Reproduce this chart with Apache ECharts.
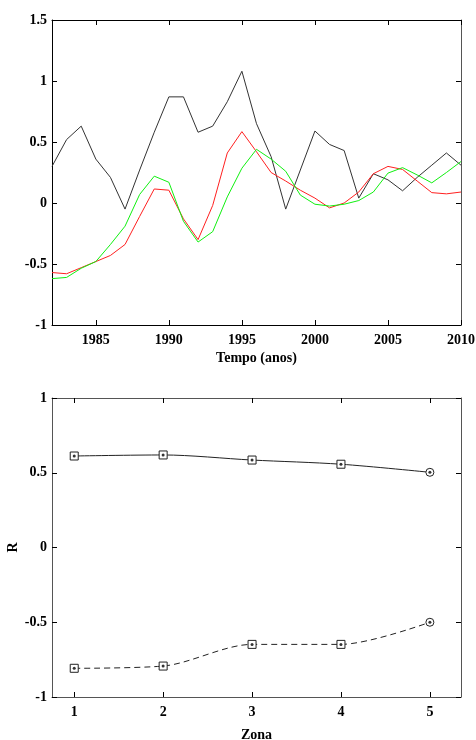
<!DOCTYPE html>
<html>
<head>
<meta charset="utf-8">
<script src="https://cdn.jsdelivr.net/npm/echarts@6/dist/echarts.min.js"></script>
<style>
  html, body { margin: 0; padding: 0; background: #fff; }
  #chart { width: 476px; height: 740px; }
</style>
</head>
<body>
<div id="chart"></div>
<script>
// anos do painel superior
var years = [1982, 1983, 1984, 1985, 1986, 1987, 1988, 1989, 1990, 1991,
  1992, 1993, 1994, 1995, 1996, 1997, 1998, 1999, 2000, 2001,
  2002, 2003, 2004, 2005, 2006, 2007, 2008, 2009, 2010];
var serieNegra = [0.30, 0.52, 0.63, 0.36, 0.21, -0.05, 0.27, 0.58, 0.87, 0.87,
  0.58, 0.63, 0.83, 1.08, 0.65, 0.38, -0.05, 0.27, 0.59, 0.48,
  0.43, 0.04, 0.24, 0.19, 0.10, 0.21, 0.31, 0.41, 0.31];
var serieVermelha = [-0.57, -0.58, -0.53, -0.48, -0.43, -0.34, -0.11, 0.115, 0.105, -0.13,
  -0.30, -0.02, 0.41, 0.585, 0.42, 0.25, 0.18, 0.105, 0.04, -0.04,
  0.0, 0.09, 0.24, 0.30, 0.275, 0.18, 0.085, 0.075, 0.09];
var serieVerde = [-0.62, -0.61, -0.535, -0.48, -0.34, -0.19, 0.07, 0.22, 0.17, -0.15,
  -0.32, -0.235, 0.05, 0.285, 0.44, 0.36, 0.26, 0.065, -0.01, -0.025,
  -0.01, 0.02, 0.09, 0.245, 0.29, 0.23, 0.165, 0.25, 0.34];
var yearTicks = [1985, 1990, 1995, 2000, 2005, 2010];

// painel inferior: correlacao R por zona
var zonas = [1, 2, 3, 4, 5];
var rPositivo = [0.612, 0.619, 0.585, 0.557, 0.503];
var rNegativo = [-0.808, -0.793, -0.648, -0.648, -0.50];

var FONT = 'Liberation Serif';

function pares(xs, ys) {
  return xs.map(function (x, i) { return [x, ys[i]]; });
}

// marcadores: quadrado nas zonas 1-4, circulo na zona 5
function marcadores(xs, ys) {
  return xs.map(function (x, i) {
    return {
      value: [x, ys[i]],
      symbol: i === xs.length - 1 ? 'circle' : 'rect'
    };
  });
}

function eixoX(grid, pos, min, max, ticks, showLabel, lineColor, name, nameGap) {
  return {
    type: 'value', gridIndex: grid, position: pos, min: min, max: max,
    name: name || '', nameLocation: 'middle', nameGap: nameGap || 0, nameMoveOverlap: false,
    nameTextStyle: { fontFamily: FONT, fontWeight: 'bold', fontSize: 14, color: '#000' },
    axisLine: { show: true, onZero: false, lineStyle: { color: lineColor, width: 1 } },
    axisTick: { show: true, inside: true, length: 5, customValues: ticks, lineStyle: { color: '#000' } },
    axisLabel: {
      show: showLabel, customValues: ticks, margin: 8,
      formatter: function (v) { return String(v); },
      fontFamily: FONT, fontWeight: 'bold', fontSize: 14, color: '#000'
    },
    splitLine: { show: false }
  };
}

function eixoY(grid, pos, min, max, interval, showLabel, lineColor, name) {
  return {
    type: 'value', gridIndex: grid, position: pos, min: min, max: max, interval: interval,
    name: name || '', nameLocation: 'middle', nameGap: 32, nameMoveOverlap: false,
    nameTextStyle: { fontFamily: FONT, fontWeight: 'bold', fontSize: 14, color: '#000' },
    axisLine: { show: true, onZero: false, lineStyle: { color: lineColor, width: 1 } },
    axisTick: { show: true, inside: true, length: 5, lineStyle: { color: '#000' } },
    axisLabel: {
      show: showLabel, margin: 5,
      fontFamily: FONT, fontWeight: 'bold', fontSize: 14, color: '#000'
    },
    splitLine: { show: false }
  };
}

var chart = echarts.init(document.getElementById('chart'));

chart.setOption({
  animation: false,
  backgroundColor: '#fff',
  grid: [
    { left: 52, top: 20, width: 409, height: 305, containLabel: false, outerBoundsMode: 'none' },
    { left: 52, top: 398, width: 409, height: 299, containLabel: false, outerBoundsMode: 'none' }
  ],
  xAxis: [
    eixoX(0, 'bottom', 1982, 2010, yearTicks, true, '#000', 'Tempo (anos)', 26),
    eixoX(0, 'top', 1982, 2010, yearTicks, false, '#000'),
    eixoX(1, 'bottom', 0.75, 5.35, zonas, true, '#555', 'Zona', 31),
    eixoX(1, 'top', 0.75, 5.35, zonas, false, '#555')
  ],
  yAxis: [
    eixoY(0, 'left', -1, 1.5, 0.5, true, '#000'),
    eixoY(0, 'right', -1, 1.5, 0.5, false, '#555'),
    eixoY(1, 'left', -1, 1, 0.5, true, '#555', 'R'),
    eixoY(1, 'right', -1, 1, 0.5, false, '#555')
  ],
  series: [
    {
      type: 'line', xAxisIndex: 0, yAxisIndex: 0, data: pares(years, serieNegra),
      showSymbol: false, lineStyle: { color: '#333', width: 1 }
    },
    {
      type: 'line', xAxisIndex: 0, yAxisIndex: 0, data: pares(years, serieVermelha),
      showSymbol: false, lineStyle: { color: '#ff2020', width: 1 }
    },
    {
      type: 'line', xAxisIndex: 0, yAxisIndex: 0, data: pares(years, serieVerde),
      showSymbol: false, lineStyle: { color: '#10f010', width: 1 }
    },
    {
      type: 'line', xAxisIndex: 2, yAxisIndex: 2, data: marcadores(zonas, rPositivo),
      smooth: 0.3, symbolSize: 8,
      lineStyle: { color: '#222', width: 1 },
      itemStyle: { color: '#fff', borderColor: '#222', borderWidth: 1 }
    },
    {
      type: 'line', xAxisIndex: 2, yAxisIndex: 2, data: marcadores(zonas, rNegativo),
      smooth: 0.3, symbolSize: 8,
      lineStyle: { color: '#222', width: 1, type: [6, 4] },
      itemStyle: { color: '#fff', borderColor: '#222', borderWidth: 1 }
    },
    {
      // ponto central dos marcadores
      type: 'scatter', xAxisIndex: 2, yAxisIndex: 2, z: 10,
      data: pares(zonas, rPositivo).concat(pares(zonas, rNegativo)),
      symbol: 'circle', symbolSize: 3, itemStyle: { color: '#000' }
    }
  ]
});
</script>
</body>
</html>
